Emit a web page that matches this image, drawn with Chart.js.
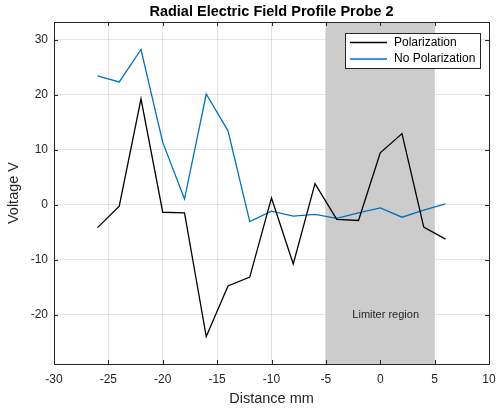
<!DOCTYPE html>
<html>
<head>
<meta charset="utf-8">
<script src="https://cdn.jsdelivr.net/npm/chart.js@4/dist/chart.umd.min.js"></script>
<style>
  html,body{margin:0;padding:0;background:#fff;}
  #wrap{width:497px;height:412px;}
</style>
</head>
<body>
<div id="wrap"><canvas id="efield"></canvas></div>
<script>
// Probe 2 radial field profile
const distance = [-26,-24,-22,-20,-18,-16,-14,-12,-10,-8,-6,-4,-2,0,2,4,6];
const polarization = [-4.2,-0.3,19.2,-1.4,-1.5,-24.0,-14.8,-13.2,1.2,-10.8,3.8,-2.7,-2.9,9.4,12.9,-4.1,-6.3];
const noPolarization = [23.4,22.3,28.2,11.3,1.0,20.1,13.4,-3.1,-1.2,-2.1,-1.8,-2.5,-1.5,-0.6,-2.3,-1.0,0.1];
const xTicks = [-30,-25,-20,-15,-10,-5,0,5,10];
const yTicks = [-20,-10,0,10,20,30];
const limiter = [-5, 5];

const AX = '#262626';
const FONT = '"Liberation Sans", Arial, sans-serif';

function pts(ys){ return distance.map((x,i)=>({x:x,y:ys[i]})); }

const matlabLook = {
  id:'matlabLook',
  beforeDatasetsDraw(chart){
    const {ctx, chartArea:a, scales:{x,y}} = chart;
    ctx.save();
    ctx.fillStyle = '#cccccc';
    const x0 = x.getPixelForValue(limiter[0]), x1 = x.getPixelForValue(limiter[1]);
    ctx.fillRect(x0, a.top, x1-x0, a.bottom-a.top);
    ctx.fillStyle = AX;
    ctx.font = '11px '+FONT;
    ctx.textAlign = 'center';
    ctx.textBaseline = 'middle';
    ctx.fillText('Limiter region', x.getPixelForValue(0.5), y.getPixelForValue(-20));
    ctx.restore();
  },
  afterDraw(chart){
    const {ctx, chartArea:a, scales:{x,y}} = chart;
    ctx.save();
    // box and inward ticks
    ctx.strokeStyle = AX;
    ctx.lineWidth = 1;
    ctx.strokeRect(Math.round(a.left)+0.5, Math.round(a.top)+0.5, Math.round(a.right-a.left), Math.round(a.bottom-a.top));
    ctx.beginPath();
    xTicks.forEach(v=>{
      const px = Math.round(x.getPixelForValue(v))+0.5;
      ctx.moveTo(px,a.bottom); ctx.lineTo(px,a.bottom-4);
      ctx.moveTo(px,a.top); ctx.lineTo(px,a.top+4);
    });
    yTicks.forEach(v=>{
      const py = Math.round(y.getPixelForValue(v))+0.5;
      ctx.moveTo(a.left,py); ctx.lineTo(a.left+4,py);
      ctx.moveTo(a.right,py); ctx.lineTo(a.right-4,py);
    });
    ctx.stroke();

    // title
    ctx.fillStyle = '#000';
    ctx.font = 'bold 14.5px '+FONT;
    ctx.textAlign = 'center';
    ctx.textBaseline = 'middle';
    ctx.fillText('Radial Electric Field Profile Probe 2', (a.left+a.right)/2, 11.5);

    // legend box
    const lx = 345.5, ly = 33.5, lw = 135, lh = 35;
    ctx.fillStyle = '#fff';
    ctx.fillRect(lx, ly, lw, lh);
    ctx.strokeStyle = AX;
    ctx.strokeRect(lx, ly, lw, lh);
    ctx.font = '12px '+FONT;
    ctx.textAlign = 'left';
    chart.data.datasets.forEach((ds,i)=>{
      const ry = 42.5 + i*16.5;
      ctx.strokeStyle = ds.borderColor;
      ctx.lineWidth = 1.3;
      ctx.beginPath(); ctx.moveTo(350,ry); ctx.lineTo(387,ry); ctx.stroke();
      ctx.fillStyle = '#000';
      ctx.fillText(ds.label, 394, ry);
    });
    ctx.restore();
  }
};

new Chart(document.getElementById('efield'), {
  type:'line',
  data:{
    datasets:[
      {label:'Polarization', data:pts(polarization), borderColor:'#000000', borderWidth:1.3, pointRadius:0, tension:0},
      {label:'No Polarization', data:pts(noPolarization), borderColor:'#0072BD', borderWidth:1.3, pointRadius:0, tension:0}
    ]
  },
  options:{
    responsive:true, maintainAspectRatio:false, animation:false,
    layout:{padding:{top:22, right:8, left:0, bottom:0}},
    plugins:{legend:{display:false}, tooltip:{enabled:false}, title:{display:false}},
    scales:{
      x:{
        type:'linear', min:-30, max:10,
        afterBuildTicks(s){ s.ticks = xTicks.map(v=>({value:v})); },
        afterFit(s){ s.height = 48; s.paddingLeft = 0; s.paddingRight = 0; },
        grid:{color:'rgba(38,38,38,0.12)', drawTicks:false},
        border:{display:false},
        ticks:{color:AX, font:{family:FONT, size:12}, padding:8, maxRotation:0},
        title:{display:true, text:'Distance mm', color:AX, font:{family:FONT, size:14.5}, padding:{top:0,bottom:4}}
      },
      y:{
        type:'linear', min:-29.0, max:33.2,
        afterBuildTicks(s){ s.ticks = yTicks.map(v=>({value:v})); },
        afterFit(s){ s.width = 54; s.paddingTop = 0; s.paddingBottom = 0; },
        grid:{color:'rgba(38,38,38,0.12)', drawTicks:false},
        border:{display:false},
        ticks:{color:AX, font:{family:FONT, size:12}, padding:6},
        title:{display:true, text:'Voltage V', color:AX, font:{family:FONT, size:14.5}, padding:{top:5,bottom:0}}
      }
    }
  },
  plugins:[matlabLook]
});
</script>
</body>
</html>
